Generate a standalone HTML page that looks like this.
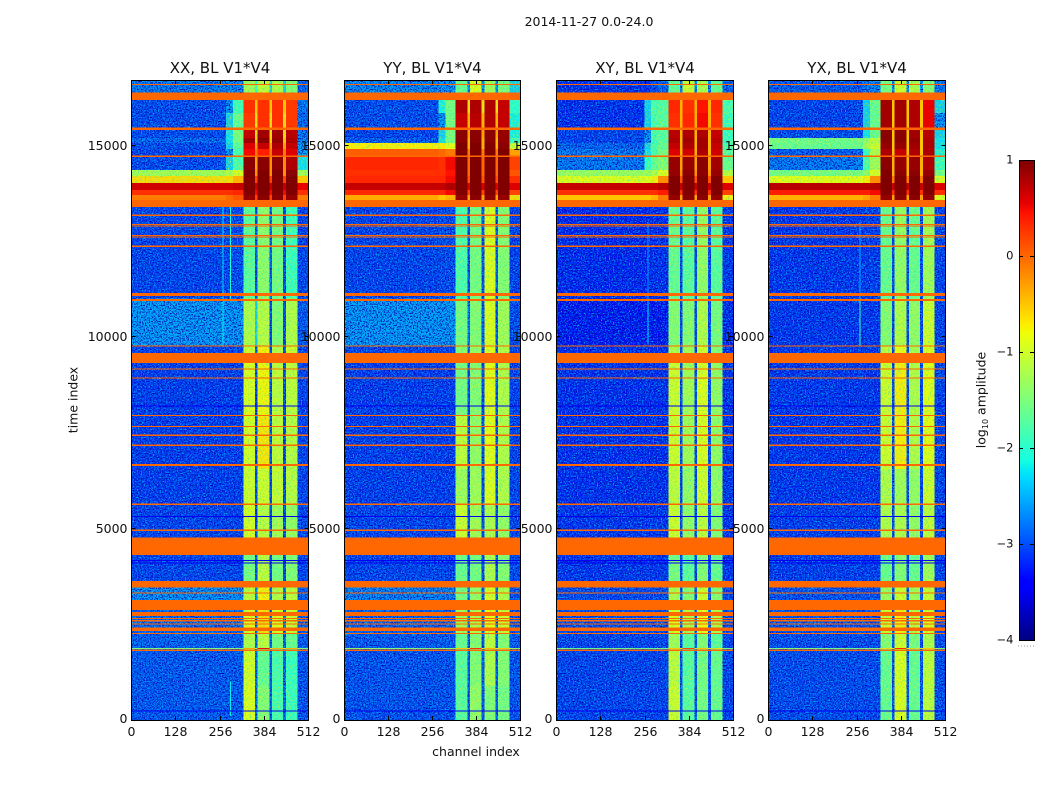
<!DOCTYPE html>
<html lang="en">
<head>
<meta charset="utf-8">
<title>2014-11-27 waterfall, BL V1*V4</title>
<style>
  html, body { margin: 0; padding: 0; background: #fff; }
  body { width: 1050px; height: 800px; overflow: hidden; }
  svg { display: block; }
  text { font-family: "DejaVu Sans", "Liberation Sans", sans-serif; fill: #111; }
</style>
</head>
<body>
<svg id="chart" xmlns="http://www.w3.org/2000/svg" width="1050" height="800" viewBox="0 0 1050 800">
  <defs>
    <filter id="speckle" x="0" y="0" width="1" height="1" color-interpolation-filters="sRGB">
      <feTurbulence type="fractalNoise" baseFrequency="0.75" numOctaves="2" seed="4" result="n"/>
      <feColorMatrix in="n" type="matrix" values="0 0 0 0 0  0 0 0 0 0.72  0 0 0 0 1  4 0 0 0 -1.85" result="light"/>
      <feColorMatrix in="n" type="matrix" values="0 0 0 0 0  0 0 0 0 0.02  0 0 0 0 0.68  0 4 0 0 -1.8" result="dark"/>
      <feMerge result="m"><feMergeNode in="light"/><feMergeNode in="dark"/></feMerge>
      <feComposite in="m" in2="SourceAlpha" operator="in"/>
    </filter>
    <filter id="band-speckle" x="0" y="0" width="1" height="1" color-interpolation-filters="sRGB">
      <feTurbulence type="fractalNoise" baseFrequency="0.6" numOctaves="2" seed="9" result="n"/>
      <feColorMatrix in="n" type="matrix" values="0 0 0 0 0.1  0 0 0 0 0.85  0 0 0 0 0.75  1.6 0 0 0 -0.74" result="cool"/>
      <feColorMatrix in="n" type="matrix" values="0 0 0 0 1  0 0 0 0 0.95  0 0 0 0 0  0 1.6 0 0 -0.74" result="warm"/>
      <feMerge result="m"><feMergeNode in="cool"/><feMergeNode in="warm"/></feMerge>
      <feComposite in="m" in2="SourceAlpha" operator="in"/>
    </filter>
  </defs>
  <text x="589" y="26" font-size="12.5" text-anchor="middle">2014-11-27 0.0-24.0</text>
  <g id="panels"></g>
  <text x="476" y="756" font-size="12.5" text-anchor="middle">channel index</text>
  <text transform="translate(77.5,400) rotate(-90)" font-size="12.5" text-anchor="middle">time index</text>
  <g id="colorbar"></g>
  <text transform="translate(985.5,400) rotate(-90)" font-size="12.5" text-anchor="middle">log<tspan font-size="8" dy="2.5">10</tspan><tspan dy="-2.5"> amplitude</tspan></text>
</svg>
<script>
// ---------- data (log10 amplitude) ----------
const panelTitles = ["XX, BL V1*V4", "YY, BL V1*V4", "XY, BL V1*V4", "YX, BL V1*V4"];
const channelTicks = [0, 128, 256, 384, 512];
const timeTicks = [0, 5000, 10000, 15000];
const colorbarTicks = [-4, -3, -2, -1, 0, 1];

// channel column boundaries
const channelEdges = [0, 256, 275, 295, 325, 359, 366, 400, 408, 440, 448, 481, 512];
// time row boundaries, [upper, lower]
const timeRows = [
  [16700, 16370], [16180, 15840], [15840, 15400], [15400, 15190], [15190, 15060],
  [15060, 14900], [14900, 14690], [14690, 14350], [14350, 14200], [14200, 14010],
  [14010, 13830], [13830, 13700], [13700, 13390], [13390, 11000], [11000, 9760],
  [9760, 9320], [9320, 7950], [7950, 6550], [6550, 5630], [5630, 4310],
  [4310, 3630], [3630, 3130], [3130, 2260], [2260, 1885], [1885, 1855],
  [1855, 900], [900, 0]
];
// flagged (constant amplitude) time ranges, common to all products
const flaggedBands = [
  [16600, 16565], [16370, 16180], [15460, 15400], [14730, 14690], [13570, 13390],
  [13185, 13155], [12945, 12915], [12905, 12875], [12655, 12625], [12615, 12585],
  [12375, 12345], [11140, 11060], [10990, 10930], [9775, 9745], [9580, 9320],
  [9175, 9145], [8935, 8905], [7965, 7935], [7675, 7645], [7445, 7415],
  [7185, 7155], [6680, 6630], [5645, 5615], [4965, 4935], [4760, 4310],
  [3630, 3460], [3325, 3295], [3130, 2870], [2820, 2715], [2660, 2630],
  [2605, 2575], [2520, 2490], [2410, 2320], [2275, 2245], [1835, 1805]
];
const flagValue = 0;
// thin dark rows across all channels
const darkRows = [8200, 5305, 4157, 4097, 235];
const darkValue = -3.5;

// each row: one value per channel column
const xxValues = [
  [-2.7,-2.6,-2.6,-2.6,-1.3,-2.0,-1.1,-2.4,-1.2,-2.4,-1.5,-2.8],
  [-3.0,-3.0,-2.5,-2.0,0.3,-0.5,0.3,-0.5,0.3,-0.5,0.25,-2.7],
  [-3.0,-3.0,-2.4,-1.7,0.25,-0.6,0.3,-0.6,0.3,-0.6,0.25,-2.8],
  [-3.0,-3.0,-2.3,-1.6,0.7,-0.6,0.85,-0.6,0.85,-0.6,0.75,-2.7],
  [-2.8,-2.8,-2.3,-1.6,0.85,-0.5,0.95,-0.5,0.9,-0.5,0.8,-2.6],
  [-3.0,-3.0,-2.4,-1.8,0.6,-0.3,0.7,-0.3,0.8,-0.3,0.7,-2.5],
  [-3.05,-3.0,-2.5,-1.9,0.5,-0.1,0.4,-0.1,0.7,-0.1,0.6,-2.5],
  [-3.0,-2.9,-2.4,-1.9,0.95,-0.3,0.95,-0.2,0.95,-0.2,0.8,-2.3],
  [-1.3,-1.3,-1.2,-0.9,1.0,-0.2,1.0,-0.2,1.0,-0.2,0.95,-1.3],
  [-0.6,-0.6,-0.6,-0.4,1.0,0.2,1.0,0.2,1.0,0.2,1.0,-0.5],
  [0.65,0.65,0.65,0.7,1.0,0.7,1.0,0.7,1.0,0.7,1.0,0.55],
  [0.3,0.3,0.3,0.35,1.0,0.5,1.0,0.5,1.0,0.5,1.0,0.3],
  [-0.1,-0.1,0.0,0.1,0.9,0.2,0.95,0.2,0.95,0.2,0.9,-0.1],
  [-3.05,-3.05,-3.0,-3.0,-1.8,-3.0,-1.45,-2.8,-1.6,-3.0,-2.0,-3.05],
  [-2.5,-2.5,-2.5,-2.5,-1.2,-2.4,-1.15,-3.0,-1.5,-3.0,-1.2,-2.9],
  [-3.05,-3.05,-3.05,-3.05,-1.0,-2.8,-0.7,-3.0,-1.2,-3.0,-1.0,-3.05],
  [-3.1,-3.1,-3.1,-3.1,-0.9,-3.0,-0.75,-3.0,-1.1,-3.0,-1.1,-3.05],
  [-3.1,-3.1,-3.1,-3.1,-0.95,-3.0,-0.65,-3.0,-1.1,-3.0,-1.15,-3.05],
  [-3.1,-3.1,-3.1,-3.1,-1.0,-3.0,-1.0,-3.0,-1.05,-3.0,-1.15,-3.05],
  [-3.05,-3.05,-3.05,-3.05,-0.95,-3.0,-1.15,-3.0,-1.3,-3.0,-1.4,-3.05],
  [-3.05,-3.05,-3.05,-3.05,-1.6,-3.0,-1.1,-3.0,-1.6,-3.0,-1.5,-3.05],
  [-2.55,-2.55,-2.55,-2.55,-1.1,-2.6,-0.7,-2.7,-1.2,-2.7,-1.1,-2.9],
  [-2.8,-2.8,-2.8,-2.8,-0.9,-2.8,-0.6,-2.8,-0.9,-2.8,-1.0,-2.9],
  [-2.85,-2.85,-2.85,-2.85,-1.2,-2.8,-1.1,-2.8,-1.6,-2.8,-1.7,-2.9],
  [-1.5,-1.5,-1.5,-1.5,-0.3,-1.0,0.5,-1.0,-0.4,-1.0,-0.4,-1.5],
  [-2.9,-2.9,-2.9,-2.9,-0.95,-2.8,-1.7,-2.8,-1.9,-2.8,-2.0,-2.95],
  [-2.9,-2.9,-2.9,-2.9,-0.9,-2.8,-1.5,-2.8,-1.9,-2.8,-2.0,-2.95]
];
const yyValues = [
  [-2.6,-2.6,-2.5,-2.5,-1.7,-2.6,-0.9,-2.5,-1.3,-2.5,-1.6,-2.4],
  [-3.0,-3.0,-2.2,-1.6,0.8,-0.6,0.8,-0.6,0.8,-0.6,0.7,-2.1],
  [-3.0,-3.0,-2.5,-1.6,0.7,-0.4,0.75,-0.4,0.8,-0.4,0.7,-2.2],
  [-3.05,-3.05,-2.4,-1.6,0.95,-0.3,0.95,-0.3,0.95,-0.3,0.9,-2.2],
  [-2.9,-2.9,-2.3,-1.6,0.95,-0.4,0.95,-0.4,0.95,-0.4,0.9,-2.0],
  [-0.7,-0.7,-0.7,-0.8,1.0,-0.4,1.0,-0.4,1.0,-0.4,0.95,-1.0],
  [0.05,0.05,0.0,-0.1,1.0,-0.1,1.0,-0.1,1.0,-0.1,1.0,-0.3],
  [0.35,0.35,0.3,0.5,1.0,0.0,1.0,0.0,1.0,0.0,1.0,0.2],
  [0.3,0.3,0.3,0.45,1.0,0.0,1.0,0.0,1.0,0.0,1.0,0.1],
  [0.35,0.35,0.35,0.5,1.0,0.1,1.0,0.1,1.0,0.1,1.0,0.3],
  [0.7,0.7,0.7,0.8,1.0,0.6,1.0,0.6,1.0,0.6,1.0,0.6],
  [0.35,0.35,0.35,0.5,1.0,0.2,1.0,0.2,1.0,0.2,1.0,0.2],
  [-0.35,-0.35,-0.5,-0.4,0.9,-0.3,0.95,-0.3,0.95,-0.3,0.9,-0.6],
  [-3.05,-3.05,-3.0,-3.0,-1.9,-3.0,-1.6,-2.9,-0.9,-2.9,-1.5,-3.05],
  [-2.5,-2.5,-2.5,-2.5,-1.6,-2.7,-1.5,-2.9,-0.9,-2.9,-1.3,-3.0],
  [-3.05,-3.05,-3.05,-3.05,-1.5,-2.9,-1.4,-3.0,-0.85,-3.0,-1.2,-3.05],
  [-3.1,-3.1,-3.1,-3.1,-1.6,-3.0,-1.5,-3.0,-0.85,-3.0,-1.2,-3.05],
  [-3.1,-3.1,-3.1,-3.1,-1.1,-3.0,-1.4,-3.0,-0.85,-3.0,-1.2,-3.05],
  [-3.1,-3.1,-3.1,-3.1,-1.3,-3.0,-1.3,-3.0,-0.9,-3.0,-1.2,-3.05],
  [-3.05,-3.05,-3.05,-3.05,-1.0,-3.0,-1.3,-3.0,-1.2,-3.0,-1.4,-3.05],
  [-3.05,-3.05,-3.05,-3.05,-1.7,-3.0,-1.6,-3.0,-1.2,-3.0,-1.5,-3.05],
  [-2.65,-2.65,-2.65,-2.65,-1.6,-2.7,-1.4,-2.8,-0.9,-2.8,-1.2,-2.9],
  [-2.85,-2.85,-2.85,-2.85,-1.3,-2.8,-1.2,-2.8,-0.8,-2.8,-1.0,-2.9],
  [-2.9,-2.9,-2.9,-2.9,-1.7,-2.9,-1.5,-2.9,-1.1,-2.9,-1.5,-2.9],
  [-1.5,-1.5,-1.5,-1.5,-0.5,-1.0,0.3,-1.0,-0.4,-1.0,-0.5,-1.5],
  [-2.95,-2.95,-2.95,-2.95,-1.8,-2.9,-1.5,-2.9,-1.2,-2.9,-1.5,-2.95],
  [-2.95,-2.95,-2.95,-2.95,-1.8,-2.9,-1.4,-2.9,-1.5,-2.9,-1.6,-2.95]
];
const xyValues = [
  [-3.2,-3.2,-3.0,-2.8,-1.7,-2.6,-1.0,-2.6,-1.2,-2.6,-1.7,-2.8],
  [-3.2,-2.4,-1.9,-1.8,0.35,-0.4,0.3,-0.4,0.45,-0.4,0.35,-1.9],
  [-3.2,-2.4,-1.9,-1.8,0.3,-0.4,0.35,-0.4,0.5,-0.4,0.3,-2.0],
  [-3.05,-2.5,-1.9,-1.8,0.75,-0.4,0.8,-0.4,0.8,-0.4,0.7,-2.0],
  [-3.05,-2.5,-1.9,-1.8,0.8,-0.4,0.85,-0.4,0.85,-0.4,0.75,-2.0],
  [-2.85,-2.4,-1.9,-1.7,0.7,-0.4,0.8,-0.4,0.85,-0.4,0.7,-1.9],
  [-2.7,-2.3,-1.9,-1.6,0.6,-0.4,0.65,-0.4,0.8,-0.4,0.65,-1.8],
  [-2.7,-2.1,-1.7,-1.5,0.9,-0.3,0.9,-0.3,0.95,-0.3,0.85,-1.7],
  [-1.35,-1.3,-1.2,-0.9,0.9,-0.2,0.95,-0.2,0.95,-0.2,0.9,-1.2],
  [-0.9,-0.85,-0.7,-0.2,1.0,0.1,1.0,0.1,1.0,0.1,1.0,-0.5],
  [0.7,0.7,0.7,0.75,1.0,0.7,1.0,0.7,1.0,0.7,1.0,0.6],
  [0.3,0.3,0.3,0.4,1.0,0.3,1.0,0.3,1.0,0.3,1.0,0.2],
  [-0.5,-0.5,-0.4,-0.1,0.9,-0.3,0.95,-0.3,0.95,-0.3,0.9,-0.7],
  [-3.25,-3.25,-3.2,-3.2,-1.7,-3.0,-1.8,-3.0,-1.4,-3.0,-1.8,-3.15],
  [-3.35,-3.35,-3.35,-3.35,-1.5,-3.0,-1.5,-3.0,-1.2,-3.0,-1.6,-3.25],
  [-3.2,-3.2,-3.2,-3.2,-1.2,-3.0,-1.3,-3.0,-1.0,-3.0,-1.5,-3.15],
  [-3.2,-3.2,-3.2,-3.2,-1.0,-3.0,-1.3,-3.0,-0.9,-3.0,-1.4,-3.15],
  [-3.2,-3.2,-3.2,-3.2,-1.0,-3.0,-1.3,-3.0,-0.9,-3.0,-1.4,-3.15],
  [-3.2,-3.2,-3.2,-3.2,-1.1,-3.0,-1.4,-3.0,-1.0,-3.0,-1.4,-3.15],
  [-3.15,-3.15,-3.15,-3.15,-1.0,-3.0,-1.4,-3.0,-1.1,-3.0,-1.5,-3.15],
  [-3.15,-3.15,-3.15,-3.15,-1.6,-3.0,-1.8,-3.0,-1.5,-3.0,-1.7,-3.15],
  [-3.0,-3.0,-3.0,-3.0,-1.2,-2.9,-1.5,-2.9,-1.0,-2.9,-1.5,-3.05],
  [-3.0,-3.0,-3.0,-3.0,-0.9,-2.9,-1.2,-2.9,-0.8,-2.9,-1.2,-3.05],
  [-3.05,-3.05,-3.05,-3.05,-1.3,-2.9,-1.8,-2.9,-1.5,-2.9,-1.8,-3.05],
  [-1.7,-1.7,-1.7,-1.7,-0.5,-1.0,0.2,-1.0,-0.5,-1.0,-0.6,-1.7],
  [-3.05,-3.05,-3.05,-3.05,-1.1,-2.9,-1.8,-2.9,-1.6,-2.9,-1.7,-3.05],
  [-3.05,-3.05,-3.05,-3.05,-1.0,-2.9,-1.8,-2.9,-1.6,-2.9,-1.7,-3.05]
];
const yxValues = [
  [-2.9,-2.9,-2.7,-2.6,-1.6,-2.5,-1.0,-2.5,-1.2,-2.5,-1.5,-2.7],
  [-3.05,-3.0,-2.4,-1.7,0.85,-0.5,0.85,-0.5,0.8,-0.5,0.55,-2.4],
  [-3.05,-3.0,-2.4,-1.7,0.85,-0.5,0.85,-0.5,0.8,-0.5,0.55,-2.5],
  [-3.0,-3.0,-2.3,-1.7,0.95,-0.5,0.95,-0.5,0.85,-0.5,0.75,-2.4],
  [-1.6,-1.6,-1.4,-1.1,0.95,-0.5,0.95,-0.5,0.9,-0.5,0.8,-2.3],
  [-1.7,-1.7,-1.3,-1.0,0.9,-0.5,0.9,-0.5,0.85,-0.5,0.8,-2.3],
  [-2.9,-2.8,-2.0,-1.2,0.8,-0.5,0.7,-0.5,0.8,-0.5,0.8,-2.2],
  [-2.7,-2.6,-1.9,-1.3,0.95,-0.4,0.9,-0.4,0.9,-0.4,0.8,-2.0],
  [-1.6,-1.6,-1.4,-0.9,1.0,-0.4,0.95,-0.4,0.95,-0.4,0.9,-1.6],
  [-0.85,-0.8,-0.7,-0.2,1.0,-0.1,1.0,-0.1,1.0,-0.1,1.0,-0.9],
  [0.75,0.75,0.75,0.8,1.0,0.7,1.0,0.7,1.0,0.7,1.0,0.6],
  [0.4,0.4,0.4,0.5,1.0,0.3,1.0,0.3,1.0,0.3,1.0,0.3],
  [-0.4,-0.4,-0.3,-0.1,0.9,-0.3,0.95,-0.3,0.95,-0.3,0.9,-0.9],
  [-3.15,-3.15,-3.1,-3.1,-1.7,-3.0,-1.4,-3.0,-1.7,-3.0,-1.3,-3.05],
  [-3.15,-3.15,-3.15,-3.15,-1.5,-3.0,-1.2,-3.0,-1.4,-3.0,-1.0,-3.05],
  [-3.15,-3.15,-3.15,-3.15,-1.1,-3.0,-0.8,-3.0,-1.3,-3.0,-0.9,-3.05],
  [-3.15,-3.15,-3.15,-3.15,-1.0,-3.0,-0.7,-3.0,-1.2,-3.0,-0.85,-3.05],
  [-3.15,-3.15,-3.15,-3.15,-1.0,-3.0,-0.7,-3.0,-1.2,-3.0,-0.85,-3.05],
  [-3.15,-3.15,-3.15,-3.15,-1.2,-3.0,-1.3,-3.0,-1.4,-3.0,-1.0,-3.05],
  [-3.1,-3.1,-3.1,-3.1,-1.2,-3.0,-1.2,-3.0,-1.4,-3.0,-1.1,-3.05],
  [-3.1,-3.1,-3.1,-3.1,-1.7,-3.0,-1.5,-3.0,-1.7,-3.0,-1.3,-3.05],
  [-2.95,-2.95,-2.95,-2.95,-1.3,-2.9,-1.0,-2.9,-1.3,-2.9,-1.0,-3.0],
  [-2.95,-2.95,-2.95,-2.95,-1.0,-2.9,-0.7,-2.9,-1.1,-2.9,-0.9,-3.0],
  [-3.0,-3.0,-3.0,-3.0,-1.5,-2.9,-1.0,-2.9,-1.6,-2.9,-1.2,-3.0],
  [-1.6,-1.6,-1.6,-1.6,-0.6,-1.0,0.3,-1.0,-0.6,-1.0,-0.5,-1.6],
  [-3.0,-3.0,-3.0,-3.0,-1.7,-2.9,-0.9,-2.9,-1.7,-2.9,-1.1,-3.0],
  [-3.0,-3.0,-3.0,-3.0,-1.7,-2.9,-0.9,-2.9,-1.7,-2.9,-1.1,-3.0]
];
const panelValues = [xxValues, yyValues, xyValues, yxValues];

// narrow RFI lines: channel, time start, time end, value
const xxSpikes = [[265, 11000, 13390, -2.25], [286, 11000, 13390, -2.1], [265, 9760, 11000, -2.2], [286, 100, 1000, -2.2]];
const yySpikes = [];
const xySpikes = [[265, 9800, 11000, -2.3], [265, 11000, 13000, -2.6]];
const yxSpikes = [[265, 9760, 11000, -1.9], [265, 11000, 13000, -2.5]];
const panelSpikes = [xxSpikes, yySpikes, xySpikes, yxSpikes];

// ---------- layout ----------
const panelLefts = [131, 344, 556, 768];
const panelRights = [308, 520, 733, 945];
const plotTop = 80;
const plotBottom = 720;
const channelMax = 512;
const timeMax = 16700;
const vMin = -4;
const vMax = 1;
const cbarLeft = 1019, cbarRight = 1034, cbarTop = 160, cbarBottom = 640;
const NS = "http://www.w3.org/2000/svg";

function xScale(panel, channel) { return panelLefts[panel] + channel / channelMax * (panelRights[panel] - panelLefts[panel]); }
function yScale(time) { return plotBottom - time / timeMax * (plotBottom - plotTop); }
function cbarScale(v) { return cbarBottom - (v - vMin) / (vMax - vMin) * (cbarBottom - cbarTop); }

function ramp(t, pts) {
  if (t <= pts[0][0]) return pts[0][1];
  for (let i = 1; i < pts.length; i++) {
    if (t <= pts[i][0]) {
      const a = pts[i - 1], b = pts[i];
      return a[1] + (b[1] - a[1]) * (t - a[0]) / (b[0] - a[0]);
    }
  }
  return pts[pts.length - 1][1];
}
function jet(v) {
  const t = Math.max(0, Math.min(1, (v - vMin) / (vMax - vMin)));
  const r = ramp(t, [[0.35, 0], [0.66, 1], [0.89, 1], [1, 0.5]]);
  const g = ramp(t, [[0.125, 0], [0.375, 1], [0.64, 1], [0.91, 0]]);
  const b = ramp(t, [[0, 0.5], [0.11, 1], [0.34, 1], [0.65, 0]]);
  return "rgb(" + Math.round(r * 255) + "," + Math.round(g * 255) + "," + Math.round(b * 255) + ")";
}
function make(tag, attrs, parent) {
  const n = document.createElementNS(NS, tag);
  for (const k in attrs) n.setAttribute(k, attrs[k]);
  parent.appendChild(n);
  return n;
}
function fmtTick(v) { return v < 0 ? "\u2212" + Math.abs(v) : String(v); }

// ---------- panels ----------
const panelsGroup = document.getElementById("panels");
panelTitles.forEach(function (title, p) {
  const g = make("g", {}, panelsGroup);
  
  

  const cells = make("g", { "shape-rendering": "crispEdges" }, g);
  
  
  const grainGroup = make("g", { filter: "url(#speckle)", "shape-rendering": "crispEdges" }, g);
  
  
  const bandGrainGroup = make("g", { filter: "url(#band-speckle)", "shape-rendering": "crispEdges" }, g);
  
  
  const overlays = make("g", { "shape-rendering": "crispEdges" }, g);
  
  

  const x0 = xScale(p, 0), x1 = xScale(p, channelMax);

  panelValues[p].forEach(function (row, r) {
    const yA = yScale(timeRows[r][0]), yB = yScale(timeRows[r][1]);
    row.forEach(function (v, c) {
      const xA = xScale(p, channelEdges[c]), xB = xScale(p, channelEdges[c + 1]);
      const cell = make("rect", { x: xA, y: yA, width: xB - xA, height: yB - yA, fill: jet(v) }, cells);
      
      
      if (v < -2.4) {
        const grain = make("rect", { x: xA, y: yA, width: xB - xA, height: yB - yA, fill: "#000" }, grainGroup);
        
        
      } else if (v < -0.5) {
        const bandGrain = make("rect", { x: xA, y: yA, width: xB - xA, height: yB - yA, fill: "#000" }, bandGrainGroup);
        
        
      }
    });
  });

  panelSpikes[p].forEach(function (s) {
    const sp = make("rect", { x: xScale(p, s[0]), y: yScale(s[2]), width: 1, height: yScale(s[1]) - yScale(s[2]), fill: jet(s[3]) }, overlays);
    
    
  });
  darkRows.forEach(function (t) {
    const d = make("rect", { x: x0, y: yScale(t + 13), width: x1 - x0, height: Math.max(1, yScale(t - 13) - yScale(t + 13)), fill: jet(darkValue) }, overlays);
    
    
  });
  flaggedBands.forEach(function (b) {
    const fl = make("rect", { x: x0, y: yScale(b[0]), width: x1 - x0, height: Math.max(1, yScale(b[1]) - yScale(b[0])), fill: jet(flagValue) }, overlays);
    
    
  });

  // frame
  const bx = x0 + 0.5, bw = x1 - x0;
  const frame = make("rect", { x: bx, y: plotTop + 0.5, width: bw, height: plotBottom - plotTop, fill: "none", stroke: "#000", "stroke-width": 1, "shape-rendering": "crispEdges" }, g);
  
  

  // x ticks
  channelTicks.forEach(function (ch) {
    const x = Math.round(bx + ch / channelMax * bw - 0.5) + 0.5;
    const tb = make("line", { x1: x, x2: x, y1: plotBottom, y2: plotBottom - 4, stroke: "#000", "shape-rendering": "crispEdges" }, g);
    
    
    const tt = make("line", { x1: x, x2: x, y1: plotTop, y2: plotTop + 4, stroke: "#000", "shape-rendering": "crispEdges" }, g);
    
    
    const lb = make("text", { x: x, y: 736, "font-size": 12.5, "text-anchor": "middle" }, g);
    
    
    lb.textContent = String(ch);
  });

  // y ticks
  timeTicks.forEach(function (t) {
    const y = Math.round(yScale(t) - 0.5) + 0.5;
    const tl = make("line", { x1: bx, x2: bx + 4, y1: y, y2: y, stroke: "#000", "shape-rendering": "crispEdges" }, g);
    
    
    const tr = make("line", { x1: bx + bw, x2: bx + bw - 4, y1: y, y2: y, stroke: "#000", "shape-rendering": "crispEdges" }, g);
    
    
    const lb = make("text", { x: bx - 4, y: (t === 0 ? y + 2.5 : y + 4.5), "font-size": 12.5, "text-anchor": "end" }, g);
    
    
    lb.textContent = String(t);
  });

  const ttl = make("text", { x: bx + bw / 2, y: 73, "font-size": 15, "text-anchor": "middle" }, g);
  
  
  ttl.textContent = title;
});

// ---------- colorbar ----------
const cbar = document.getElementById("colorbar");
const cbarSteps = 240;
const cbarGroup = make("g", { "shape-rendering": "crispEdges" }, cbar);


for (let i = 0; i < cbarSteps; i++) {
  const v0 = vMin + (vMax - vMin) * i / cbarSteps;
  const v1 = vMin + (vMax - vMin) * (i + 1) / cbarSteps;
  const s = make("rect", { x: cbarLeft, y: cbarScale(v1), width: cbarRight - cbarLeft, height: cbarScale(v0) - cbarScale(v1) + 0.5, fill: jet((v0 + v1) / 2) }, cbarGroup);
  
  
}
const cbarFrame = make("rect", { x: cbarLeft + 0.5, y: cbarTop + 0.5, width: cbarRight - cbarLeft, height: cbarBottom - cbarTop, fill: "none", stroke: "#000", "shape-rendering": "crispEdges" }, cbar);


colorbarTicks.forEach(function (v) {
  const y = Math.round(cbarScale(v)) + 0.5;
  const a = make("line", { x1: cbarLeft, x2: cbarLeft + 4, y1: y, y2: y, stroke: "#000", "shape-rendering": "crispEdges" }, cbar);
  
  
  const b = make("line", { x1: cbarRight, x2: cbarRight - 4, y1: y, y2: y, stroke: "#000", "shape-rendering": "crispEdges" }, cbar);
  
  
  const lb = make("text", { x: 1013.5, y: y + 3, "font-size": 11.5, "text-anchor": "end" }, cbar);
  
  
  lb.textContent = fmtTick(v);
});
const cbarCaption = make("line", { x1: 1018, x2: 1035, y1: 646, y2: 646, stroke: "#999", "stroke-width": 1, "stroke-dasharray": "1 2" }, cbar);


</script>
</body>
</html>
